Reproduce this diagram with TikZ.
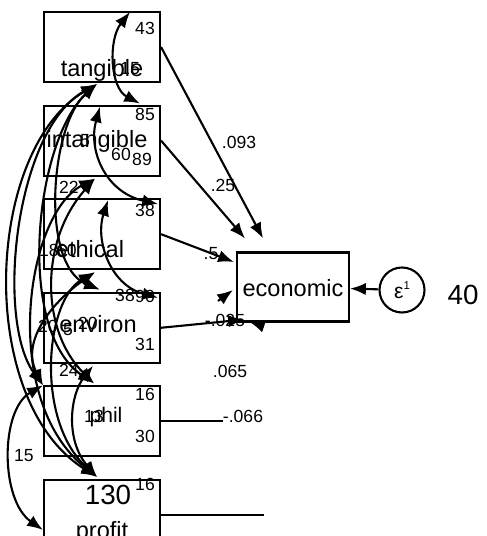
\documentclass[tikz,border=0pt]{standalone}
\usepackage{fontspec}
\setmainfont{Liberation Sans}
\usetikzlibrary{positioning, calc, arrows.meta}
\tikzset{
    varbox/.style={rectangle, draw=black, line width=1.2pt, minimum width=2.32cm, minimum height=1.4cm, inner sep=0pt},
    errnode/.style={circle, draw=black, line width=1.2pt, minimum size=0.9cm, inner sep=0pt},
    boxlabel/.style={inner sep=0pt, font=\fontsize{13.4}{14}\selectfont},
    numlabel/.style={inner sep=0pt, font=\fontsize{10}{11}\selectfont},
    biglabel/.style={inner sep=0pt, font=\fontsize{15.8}{17}\selectfont},
    pathline/.style={-{Latex[length=9pt,width=7pt]}, line width=1.2pt},
    covline/.style={{Latex[length=9pt,width=7pt]}-{Latex[length=9pt,width=7pt]}, line width=1.2pt},
}

\begin{document}
\begin{tikzpicture}[x=0.02cm, y=-0.02cm]
    \useasboundingbox (0,0) rectangle (486,536);
    \clip (0,0) rectangle (486,536);

    % observed variables
    \node[varbox] (tang) at (102,47) {};
    \node[varbox, below=0.43cm of tang] (intang) {};
    \node[varbox, below=0.43cm of intang] (ethic) {};
    \node[varbox, below=0.43cm of ethic] (envir) {};
    \node[varbox, below=0.43cm of envir] (phil) {};
    \node[varbox, below=0.43cm of phil] (profit) {};

    % outcome and error
    \node[varbox, minimum width=2.24cm, minimum height=1.38cm] (econ) at (293,287) {};
    \node[boxlabel, anchor=base] (econL) at (293,296) {economic};
    \node[errnode] (eps) at (402,290) {};
    \node[inner sep=0pt, font=\fontsize{12}{12}\selectfont] (epsL) at (eps.center) {ε\raisebox{5pt}{\fontsize{6.5}{7}\selectfont 1}};
    \node[biglabel] (epsVar) at (463,295) {40};

    % texts inside the boxes
    \node[boxlabel, anchor=base] (tangL) at (102,77) {tangible};
    \node[numlabel] (tangVar) at (145,28) {43};
    \node[numlabel] (tangMean) at (130,69) {15};

    \node[boxlabel, anchor=base] (intangL) at (97,148) {intangible};
    \node[numlabel] (intangVar) at (145,114) {85};
    \node[numlabel] (intangA) at (85,141) {5};
    \node[numlabel] (intangB) at (121,154) {60};
    \node[numlabel] (intangC) at (142,159) {89};
    \node[numlabel] (covA) at (69,187) {22};

    \node[boxlabel, anchor=base] (ethicL) at (90,257) {ethical};
    \node[numlabel] (ethicVar) at (145,210) {38};
    \node[numlabel] (ethicA) at (49,250) {18};
    \node[numlabel] (ethicB) at (67,250) {60};

    \node[boxlabel, anchor=base] (envirL) at (98,332) {environ};
    \node[numlabel] (envirA) at (125,295) {38};
    \node[numlabel] (envirB) at (145,296) {90};
    \node[numlabel] (envirC) at (48,326) {20};
    \node[numlabel] (envirD) at (88,323) {20};
    \node[numlabel] (envirE) at (68,330) {5};
    \node[numlabel] (envirVar) at (145,344) {31};
    \node[numlabel] (covB) at (69,370) {24};

    \node[boxlabel, anchor=base, font=\fontsize{12}{12}\selectfont] (philL) at (106,422) {phil};
    \node[numlabel] (philA) at (94,416) {13};
    \node[numlabel] (philVar) at (145,394) {16};
    \node[numlabel] (philB) at (145,436) {30};
    \node[numlabel] (covC) at (24,456) {15};

    \node[biglabel] (profitMean) at (108,495) {130};
    \node[numlabel] (profitVar) at (145,484) {16};
    \node[boxlabel, anchor=base] (profitL) at (102,538) {profit};

    % paths to economic
    \coordinate (econA) at ($(econ.north)+(-30,-13)$);
    \coordinate (econB) at ($(econ.north)+(-48,-13)$);
    \coordinate (econC) at ($(econ.west)+(-2,-25)$);
    \coordinate (econD) at ($(econ.south west)+(8,-3)$);
    \draw[pathline] (tang.east) -- (econA);
    \draw[pathline] (intang.east) -- (econB);
    \draw[pathline] (ethic.east) -- (econC);
    \draw[pathline] (envir.east) -- (econD);
    \draw[line width=1.2pt] (phil.east) -- ++(62,0) coordinate (philEnd);
    \draw[line width=1.2pt] (profit.east) -- ++(103,0) coordinate (profitEnd);
    \draw[pathline] ($(econ.west)+(-18,14)$) -- ($(econ.west)+(-3,3)$);
    \draw[pathline] ($(econ.south west)+(28,4)$) -- ($(econ.south west)+(13,-1)$);
    \draw[pathline] (eps) -- (econ);

    \node[numlabel] (bTang) at (239,142) {.093};
    \node[numlabel] (bIntang) at (223,185) {.25};
    \node[numlabel] (bEthic) at (211,254) {.5};
    \node[numlabel] (bEnvir) at (225,320) {-.025};
    \node[numlabel] (bPhil) at (230,371) {.065};
    \node[numlabel] (bProfit) at (243,416) {-.066};

    % covariances
    \coordinate (tT) at ($(tang.north)+(28,1)$);
    \coordinate (tB) at ($(tang.south)+(-5,1)$);
    \coordinate (iT) at ($(intang.north)+(38,-1)$);
    \coordinate (iL) at ($(intang.north)+(-2,2)$);
    \coordinate (iB) at ($(intang.south)+(-7,2)$);
    \coordinate (eR) at ($(ethic.north east)+(-3,6)$);
    \coordinate (eT) at ($(ethic.north)+(6,2)$);
    \coordinate (eB) at ($(ethic.south)+(-7,2)$);
    \coordinate (nR) at ($(envir.north east)+(-3,6)$);
    \coordinate (nL) at ($(envir.north)+(-2,-2)$);
    \coordinate (nB) at ($(envir.south)+(-9,2)$);
    \coordinate (pC) at (phil.north west);
    \coordinate (pT) at ($(phil.north)+(-8,-2)$);
    \coordinate (fT) at ($(profit.north)+(-5,-2)$);
    \coordinate (fL) at ($(profit.west)+(0,15)$);

    \draw[covline] (tT) .. controls (108,40) and (110,88) .. (iT);
    \draw[covline] (iL) .. controls (88,150) and (105,192) .. (eR);
    \draw[covline] (eT) .. controls (95,240) and (110,285) .. (nR);
    \draw[covline] (tB) .. controls (50,125) and (40,265) .. (nL);
    \draw[covline] (tB) .. controls (15,130) and (-5,320) .. (pC);
    \draw[covline] (tB) .. controls (-15,150) and (-25,400) .. (fT);
    \draw[covline] (tB) .. controls (35,140) and (15,330) .. (pT);
    \draw[covline] (iB) .. controls (25,215) and (0,400) .. (fT);
    \draw[covline] (iB) .. controls (40,240) and (40,330) .. (pT);
    \draw[covline] (eB) .. controls (45,300) and (35,420) .. (fT);
    \draw[covline] (eB) .. controls (55,300) and (20,340) .. (pC);
    \draw[covline] (nB) .. controls (70,395) and (65,440) .. (fT);
    \draw[covline] (pC) .. controls (0,410) and (0,500) .. (fL);
\end{tikzpicture}
\end{document}
